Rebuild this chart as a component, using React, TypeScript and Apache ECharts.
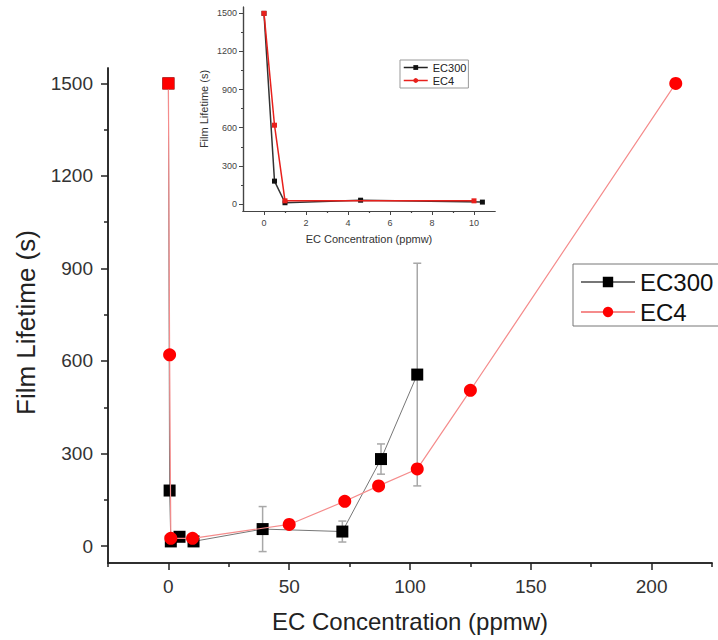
import React, { useEffect, useRef } from "react";
import * as echarts from "echarts";

// ---- Main chart data ----
const mainEC300X = [0, 0.5, 1, 4.6, 10.4, 39, 72, 88, 103];
const mainEC300Y = [1500, 180, 15, 30, 15, 55, 47, 282, 556];
const mainEC300Err = [0, 0, 0, 0, 0, 73, 34, 49, 361];

const mainEC4X = [0, 0.5, 1, 10, 50, 73, 87, 103, 125, 210];
const mainEC4Y = [1500, 620, 25, 25, 70, 145, 195, 250, 505, 1500];

// ---- Inset chart data ----
const insetEC300X = [0, 0.5, 1, 4.6, 10.4];
const insetEC300Y = [1500, 180, 10, 30, 15];
const insetEC4X = [0, 0.5, 1, 10];
const insetEC4Y = [1500, 620, 25, 25];

// ---- Ticks ----
const mainXMajor = [0, 50, 100, 150, 200];
const mainXMinor = [-25, 25, 75, 125, 175, 225];
const yMajor = [0, 300, 600, 900, 1200, 1500];
const yMinor = [150, 450, 750, 1050, 1350];
const insetXMajor = [0, 2, 4, 6, 8, 10];
const insetXMinor = [1, 3, 5, 7, 9];

const seriesNames = ["EC300", "EC4"];
const xTitle = "EC Concentration (ppmw)";
const yTitle = "Film Lifetime (s)";

const FONT = "'Liberation Sans', Arial, sans-serif";

export default function App() {
  const ref = useRef<HTMLDivElement>(null);

  useEffect(() => {
    if (!ref.current) return;
    const chart = echarts.init(ref.current, undefined, { renderer: "svg" });

    const axisColor = "#222";
    const insetAxisColor = "#444";
    const plain = (v: number) => String(v);

    const ec300Main = mainEC300X.map((x, i) => [x, mainEC300Y[i]]);
    const ec4Main = mainEC4X.map((x, i) =>
      i === 0 ? { value: [x, mainEC4Y[i]], symbol: "rect", symbolSize: 12 } : [x, mainEC4Y[i]]
    );
    const errData = mainEC300X
      .map((x, i) => [x, mainEC300Y[i] - mainEC300Err[i], mainEC300Y[i] + mainEC300Err[i], mainEC300Err[i]])
      .filter((d) => d[3] > 0)
      .map((d) => [d[0], d[1], d[2]]);

    const ec300Inset = insetEC300X.map((x, i) => [x, insetEC300Y[i]]);
    const ec4Inset = insetEC4X.map((x, i) => [x, insetEC4Y[i]]);

    const minorX = (gridIndex: number, min: number, max: number, vals: number[], len: number, color: string, w: number) => ({
      gridIndex,
      type: "value",
      position: "bottom",
      min,
      max,
      axisLine: { show: true, onZero: false, lineStyle: { color, width: w } },
      axisTick: { show: true, customValues: vals, length: len, lineStyle: { color, width: w } },
      axisLabel: { show: false },
      splitLine: { show: false },
    });
    const minorY = (gridIndex: number, vals: number[], len: number, color: string, w: number) => ({
      gridIndex,
      type: "value",
      position: "left",
      min: -55,
      max: 1550,
      axisLine: { show: true, onZero: false, lineStyle: { color, width: w } },
      axisTick: { show: true, customValues: vals, length: len, lineStyle: { color, width: w } },
      axisLabel: { show: false },
      splitLine: { show: false },
    });

    const option: any = {
      animation: false,
      backgroundColor: "#fff",
      textStyle: { fontFamily: FONT },
      grid: [
        { left: 108, top: 68, width: 604, height: 495, containLabel: false },
        { left: 243, top: 7, width: 252, height: 204, containLabel: false },
      ],
      legend: [
        {
          orient: "vertical",
          left: 573,
          top: 264,
          itemWidth: 54,
          itemHeight: 13,
          itemGap: 6,
          padding: [6, 8, 2, 7],
          borderColor: "#777",
          borderWidth: 1,
          selectedMode: false,
          textStyle: { fontSize: 24, color: "#111", fontFamily: FONT },
          data: seriesNames,
        },
        {
          orient: "vertical",
          left: 400,
          top: 60,
          itemWidth: 24,
          itemHeight: 6,
          itemGap: 2,
          padding: [2, 2, 2, 3],
          borderColor: "#999",
          borderWidth: 1,
          selectedMode: false,
          textStyle: { fontSize: 11, color: "#222", fontFamily: FONT },
          data: [
            { name: "EC300", itemStyle: { color: "#111" }, lineStyle: { color: "#222", width: 1.5 } },
            { name: "EC4", itemStyle: { color: "#e8201c" }, lineStyle: { color: "#e8201c", width: 1.5 } },
          ],
        },
      ],
      xAxis: [
        {
          gridIndex: 0,
          type: "value",
          position: "bottom",
          min: -25,
          max: 225,
          axisLine: { show: true, onZero: false, lineStyle: { color: axisColor, width: 1.5 } },
          axisTick: { show: true, customValues: mainXMajor, length: 7, lineStyle: { color: axisColor, width: 1.5 } },
          axisLabel: { customValues: mainXMajor, formatter: plain, fontSize: 19, color: "#333", margin: 14 },
          splitLine: { show: false },
          name: xTitle,
          nameLocation: "middle",
          nameGap: 46,
          nameTextStyle: { fontSize: 24, color: "#222" },
        },
        minorX(0, -25, 225, mainXMinor, 4, axisColor, 1.5),
        {
          gridIndex: 1,
          type: "value",
          position: "bottom",
          min: -1,
          max: 11,
          axisLine: { show: true, onZero: false, lineStyle: { color: insetAxisColor, width: 1.2 } },
          axisTick: { show: true, customValues: insetXMajor, length: 4, lineStyle: { color: insetAxisColor } },
          axisLabel: { customValues: insetXMajor, formatter: plain, fontSize: 9, color: "#444", margin: 7 },
          splitLine: { show: false },
          name: xTitle,
          nameLocation: "middle",
          nameGap: 22,
          nameTextStyle: { fontSize: 11, color: "#333" },
        },
        minorX(1, -1, 11, insetXMinor, 2, insetAxisColor, 1.2),
      ],
      yAxis: [
        {
          gridIndex: 0,
          type: "value",
          position: "left",
          min: -55,
          max: 1550,
          axisLine: { show: true, onZero: false, lineStyle: { color: axisColor, width: 1.5 } },
          axisTick: { show: true, customValues: yMajor, length: 7, lineStyle: { color: axisColor, width: 1.5 } },
          axisLabel: { customValues: yMajor, formatter: plain, fontSize: 19, color: "#333", margin: 15 },
          splitLine: { show: false },
          name: yTitle,
          nameLocation: "middle",
          nameGap: 69,
          nameTextStyle: { fontSize: 26, color: "#222", padding: [0, 14, 0, 0] },
        },
        minorY(0, yMinor, 4, axisColor, 1.5),
        {
          gridIndex: 1,
          type: "value",
          position: "left",
          min: -55,
          max: 1550,
          axisLine: { show: true, onZero: false, lineStyle: { color: insetAxisColor, width: 1.2 } },
          axisTick: { show: true, customValues: yMajor, length: 4, lineStyle: { color: insetAxisColor } },
          axisLabel: { customValues: yMajor, formatter: plain, fontSize: 9, color: "#444", margin: 6 },
          splitLine: { show: false },
          name: yTitle,
          nameLocation: "middle",
          nameGap: 34,
          nameTextStyle: { fontSize: 11, color: "#333" },
        },
        minorY(1, yMinor, 2, insetAxisColor, 1.2),
      ],
      series: [
        {
          name: "EC300",
          type: "line",
          xAxisIndex: 0,
          yAxisIndex: 0,
          data: ec300Main,
          symbol: "rect",
          symbolSize: 12,
          itemStyle: { color: "#000" },
          lineStyle: { color: "#777", width: 1 },
          z: 3,
        },
        {
          name: "EC4",
          type: "line",
          xAxisIndex: 0,
          yAxisIndex: 0,
          data: ec4Main,
          symbol: "circle",
          symbolSize: 13,
          itemStyle: { color: "#ff0000" },
          lineStyle: { color: "#f58c8c", width: 1.2 },
          z: 4,
        },
        {
          name: "errors",
          type: "custom",
          xAxisIndex: 0,
          yAxisIndex: 0,
          data: errData,
          encode: { x: 0, y: [1, 2] },
          z: 2,
          renderItem: (params: any, api: any) => {
            const x = api.value(0);
            const top = api.coord([x, api.value(2)]);
            const bot = api.coord([x, api.value(1)]);
            const cap = 4;
            const style = { stroke: "#a8a8a8", lineWidth: 1.5, fill: "none" };
            return {
              type: "group",
              children: [
                { type: "line", shape: { x1: top[0], y1: top[1], x2: bot[0], y2: bot[1] }, style },
                { type: "line", shape: { x1: top[0] - cap, y1: top[1], x2: top[0] + cap, y2: top[1] }, style },
                { type: "line", shape: { x1: bot[0] - cap, y1: bot[1], x2: bot[0] + cap, y2: bot[1] }, style },
              ],
            };
          },
        },
        {
          name: "EC300",
          type: "line",
          xAxisIndex: 2,
          yAxisIndex: 2,
          data: ec300Inset,
          symbol: "rect",
          symbolSize: 5,
          itemStyle: { color: "#111" },
          lineStyle: { color: "#333", width: 1.5 },
          z: 3,
        },
        {
          name: "EC4",
          type: "line",
          xAxisIndex: 2,
          yAxisIndex: 2,
          data: ec4Inset,
          symbol: "rect",
          symbolSize: 5,
          itemStyle: { color: "#e8201c" },
          lineStyle: { color: "#e8201c", width: 1.5 },
          z: 4,
        },
      ],
    };

    chart.setOption(option);
    return () => chart.dispose();
  }, []);

  return (
    <div
      ref={ref}
      style={{ position: "fixed", left: 0, top: 0, width: 718, height: 640, background: "#fff" }}
    />
  );
}
